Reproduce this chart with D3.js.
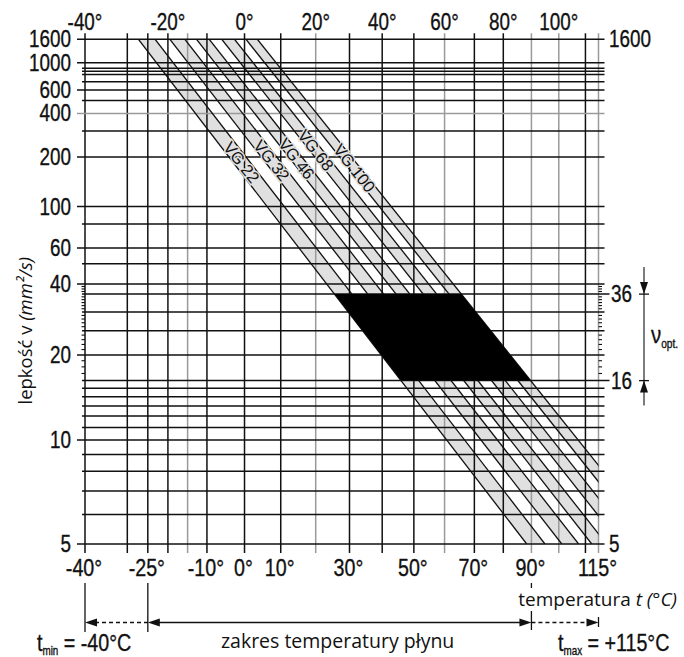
<!DOCTYPE html>
<html>
<head>
<meta charset="utf-8">
<script src="https://cdn.jsdelivr.net/npm/d3@7"></script>
<style>
  body { margin: 0; background: #fff; }
  svg { display: block; }
  .num { font-family: "Liberation Sans", Arial, sans-serif; fill: #111; stroke: #111; stroke-width: 0.35; }
  .txt { font-family: "Open Sans", "Noto Sans", sans-serif; fill: #111; }
</style>
</head>
<body>
<svg width="684" height="657"></svg>
<script>
// ISO VG bands: temperature (°C) where each band edge
// crosses 1600 mm²/s (top) and 5 mm²/s (bottom, extrapolated past 115° when needed)
const grades   = ["VG 22", "VG 32", "VG 46", "VG 68", "VG 100"];
const tTopLow  = [-27.3, -19.5, -12.7, -6.1, 0.4];
const tTopHigh = [-23.2, -15.7, -9.4, -2.7, 3.5];
const tBotLow  = [88.3, 101.1, 112.4, 123.7, 134.6];
const tBotHigh = [94.9, 107.4, 118.1, 129.3, 140.0];
const labelVisc = [185, 190, 195, 222, 170];

// viscosity grid (mm²/s)
const viscGrid = [1600, 1000, 900, 850, 800, 700, 600, 500, 400, 300, 200, 100, 80, 60, 50,
                  40, 36, 30, 25, 20, 16, 15, 14, 13, 12, 11, 10, 9, 8, 7, 6, 5];
const viscGridGray = [400];
const viscLeftLabels = [1600, 1000, 600, 400, 200, 100, 60, 40, 20, 10, 5];
const viscRightLabels = [1600, 36, 16, 5];
const viscMinor = [17, 18, 19, 21, 22, 23, 24, 26, 27, 28, 29, 31, 32, 33, 34, 35, 37, 38, 39];

// temperature grid (°C)
const tempGrid = [-40, -30, -25, -20, -15, -10, 0, 10, 20, 30, 40, 50, 60, 70, 80, 90, 100, 110, 115];
const tempGridGray = [-15, 20, 60, 90, 100, 115];
const tempTopLabels = [-40, -20, 0, 20, 40, 60, 80, 100];
const tempBottomLabels = [-40, -25, -10, 0, 10, 30, 50, 70, 90, 115];

const optRange = [16, 36];
const tMin = -40, tFluidLo = -25, tFluidHi = 90, tMax = 115;
const vTop = 1600, vBottom = 5;

const svg = d3.select("svg");

// x: log of absolute temperature, y: log-log of viscosity (Ubbelohde/ASTM style)
const lnln = v => Math.log10(Math.log10(v + 1));
const xK = d3.scaleLog().domain([tMin + 273.15, tMax + 273.15]).range([85, 598.5]);
const x = t => xK(t + 273.15);
const yL = d3.scaleLinear().domain([lnln(vBottom), lnln(vTop)]).range([544, 39.3]);
const y = v => yL(lnln(v));

const bands = grades.map((g, i) => ({
  name: g,
  lo: [tTopLow[i], tBotLow[i]],
  hi: [tTopHigh[i], tBotHigh[i]],
  lv: labelVisc[i]
}));

// x position of a band edge at a given viscosity
function xOn(edge, v) {
  const x0 = x(edge[0]), x1 = x(edge[1]), y0 = y(vTop), y1 = y(vBottom);
  return x0 + (x1 - x0) * (y(v) - y0) / (y1 - y0);
}
const line = d3.line();

svg.append("defs").append("clipPath").attr("id", "plot").append("rect")
  .attr("x", x(tMin)).attr("y", y(vTop))
  .attr("width", x(tMax) - x(tMin)).attr("height", y(vBottom) - y(vTop));

// band fills
svg.append("g").attr("clip-path", "url(#plot)")
  .selectAll("path").data(bands).join("path")
  .attr("fill", "#e0e0e0")
  .attr("d", d => line([[x(d.lo[0]), y(vTop)], [x(d.lo[1]), y(vBottom)],
                        [x(d.hi[1]), y(vBottom)], [x(d.hi[0]), y(vTop)]]) + "Z");

// vertical grid
svg.append("g").selectAll("line").data(tempGrid).join("line")
  .attr("x1", d => x(d)).attr("x2", d => x(d))
  .attr("y1", y(vTop) - 6).attr("y2", y(vBottom) + 9)
  .attr("stroke", d => tempGridGray.includes(d) ? "#9a9a9a" : "#111")
  .attr("stroke-width", 1.5);

// horizontal grid
svg.append("g").selectAll("line").data(viscGrid).join("line")
  .attr("x1", d => viscLeftLabels.includes(d) ? x(tMin) - 8 : x(tMin) - 3)
  .attr("x2", d => (d === 36 || d === 16) ? x(tMax) + 11 : x(tMax) + 6)
  .attr("y1", d => y(d)).attr("y2", d => y(d))
  .attr("stroke", d => viscGridGray.includes(d) ? "#9a9a9a" : "#111")
  .attr("stroke-width", 1.5);

// minor ticks
const minor = svg.append("g").attr("stroke", "#111").attr("stroke-width", 1.1);
minor.selectAll(".l").data(viscMinor).join("line").attr("class", "l")
  .attr("x1", x(tMin) - 3.5).attr("x2", x(tMin)).attr("y1", d => y(d)).attr("y2", d => y(d));
minor.selectAll(".r").data(viscMinor).join("line").attr("class", "r")
  .attr("x1", x(tMax)).attr("x2", x(tMax) + 3.5).attr("y1", d => y(d)).attr("y2", d => y(d));

// band edges
const edges = bands.flatMap(d => [d.lo, d.hi]);
svg.append("g").attr("clip-path", "url(#plot)")
  .selectAll("path").data(edges).join("path")
  .attr("fill", "none").attr("stroke", "#111").attr("stroke-width", 1.3)
  .attr("d", e => line([[x(e[0]), y(vTop)], [x(e[1]), y(vBottom)]]));

// optimal viscosity region
const leftEdge = bands[0].lo, rightEdge = bands[bands.length - 1].hi;
svg.append("path")
  .attr("fill", "#000")
  .attr("d", line([[xOn(leftEdge, optRange[1]), y(optRange[1])],
                   [xOn(rightEdge, optRange[1]), y(optRange[1])],
                   [xOn(rightEdge, optRange[0]), y(optRange[0])],
                   [xOn(leftEdge, optRange[0]), y(optRange[0])]]) + "Z");

// band labels
const ang = Math.atan2(y(vBottom) - y(vTop), x(bands[2].lo[1]) - x(bands[2].lo[0])) * 180 / Math.PI;
svg.append("g").selectAll("text").data(bands).join("text")
  .attr("font-family", "Liberation Sans, Arial, sans-serif")
  .attr("fill", "#111")
  .attr("font-size", 16.5)
  .attr("text-anchor", "middle")
  .attr("transform", d => {
    const cx = (xOn(d.lo, d.lv) + xOn(d.hi, d.lv)) / 2;
    return `translate(${cx},${y(d.lv)}) rotate(${ang})`;
  })
  .attr("dy", "0.36em")
  .attr("stroke", "#e0e0e0").attr("stroke-width", 3).attr("paint-order", "stroke")
  .text(d => d.name);

// narrow numeric labels
function narrow(g, tx, ty, txt, size, anchor) {
  g.append("text").attr("class", "num")
    .attr("transform", `translate(${tx},${ty}) scale(0.82,1)`)
    .attr("font-size", size).attr("text-anchor", anchor)
    .text(txt);
}
const lab = svg.append("g");
tempTopLabels.forEach(t => narrow(lab, x(t), 30, `${t}°`, 23, "middle"));
tempBottomLabels.forEach(t => narrow(lab, x(t) - 1, 576, `${t}°`, 24, "middle"));
viscLeftLabels.forEach(v => narrow(lab, 71, y(v) + 8, v, 23, "end"));
viscRightLabels.forEach(v => narrow(lab, v === 1600 || v === 5 ? 609 : 611, y(v) + 8, v, 23, "start"));

// axis titles
svg.append("text").attr("class", "txt")
  .attr("transform", `translate(32,${y(25)}) rotate(-90)`)
  .attr("font-size", 18.5).attr("text-anchor", "middle")
  .call(t => {
    t.append("tspan").text("lepkość v ");
    t.append("tspan").attr("font-style", "italic").text("(mm²/s)");
  });

svg.append("text").attr("class", "txt")
  .attr("x", 677).attr("y", 606).attr("font-size", 19).attr("text-anchor", "end")
  .call(t => {
    t.append("tspan").text("temperatura ");
    t.append("tspan").attr("font-style", "italic").text("t (°C)");
  });

svg.append("text").attr("class", "txt")
  .attr("x", (x(tFluidLo) + x(tFluidHi)) / 2 - 2).attr("y", 648)
  .attr("font-size", 19.5).attr("text-anchor", "middle")
  .text("zakres temperatury płynu");

// temperature range dimension line
function arrow(g, tx, ty, dir) {
  const L = 12, w = 4;
  const pts = {
    left:  [[tx, ty], [tx + L, ty - w], [tx + L, ty + w]],
    right: [[tx, ty], [tx - L, ty - w], [tx - L, ty + w]],
    up:    [[tx, ty], [tx - w, ty + L], [tx + w, ty + L]],
    down:  [[tx, ty], [tx - w, ty - L], [tx + w, ty - L]]
  }[dir];
  g.append("path").attr("fill", "#111").attr("d", line(pts) + "Z");
}
const dim = svg.append("g").attr("stroke-width", 1.3);
const yDim = 622.5;
[[tMin, 583, 632], [tFluidLo, 583, 632], [tFluidHi, 611, 630], [tMax, 617, 627]].forEach(([t, a, b]) =>
  dim.append("line").attr("x1", x(t)).attr("x2", x(t)).attr("y1", a).attr("y2", b).attr("stroke", "#111"));
dim.append("line").attr("x1", x(tFluidHi)).attr("x2", x(tFluidHi)).attr("y1", 583).attr("y2", 588).attr("stroke", "#111");
dim.append("line").attr("x1", x(tMin) + 10).attr("x2", x(tFluidLo)).attr("y1", yDim).attr("y2", yDim)
  .attr("stroke", "#111").attr("stroke-dasharray", "4,3");
dim.append("line").attr("x1", x(tFluidLo) + 10).attr("x2", x(tFluidHi) - 10).attr("y1", yDim).attr("y2", yDim)
  .attr("stroke", "#111");
dim.append("line").attr("x1", x(tFluidHi)).attr("x2", x(tMax) - 10).attr("y1", yDim).attr("y2", yDim)
  .attr("stroke", "#111").attr("stroke-dasharray", "4,3");
arrow(dim, x(tMin), yDim, "left");
arrow(dim, x(tFluidLo), yDim, "left");
arrow(dim, x(tFluidHi), yDim, "right");
arrow(dim, x(tMax), yDim, "right");

// t_min / t_max
function limitLabel(tx, sub, rest) {
  const t = svg.append("text").attr("class", "num")
    .attr("transform", `translate(${tx},651) scale(0.82,1)`).attr("font-size", 24);
  t.append("tspan").text("t");
  t.append("tspan").attr("font-size", 12).attr("dy", 4).text(sub);
  t.append("tspan").attr("dy", -4).text(rest);
}
limitLabel(37, "min", ` = ${tMin}°C`);
limitLabel(558, "max", ` = +${tMax}°C`);

// optimal viscosity dimension
const xOpt = 644;
const od = svg.append("g");
od.append("line").attr("x1", xOpt).attr("x2", xOpt).attr("y1", y(optRange[1]) - 27).attr("y2", y(optRange[0]) + 25)
  .attr("stroke", "#111").attr("stroke-width", 1.1);
[optRange[1], optRange[0]].forEach(v =>
  od.append("line").attr("x1", xOpt - 5).attr("x2", xOpt + 5).attr("y1", y(v)).attr("y2", y(v))
    .attr("stroke", "#111").attr("stroke-width", 1.3));
arrow(od, xOpt, y(optRange[1]), "down");
arrow(od, xOpt, y(optRange[0]), "up");
const nu = od.append("text").attr("class", "num")
  .attr("transform", `translate(651,${(y(optRange[0]) + y(optRange[1])) / 2 + 6}) scale(0.85,1)`)
  .attr("font-size", 24);
nu.append("tspan").text("ν");
nu.append("tspan").attr("font-size", 12).attr("dy", 5).text("opt.");
</script>
</body>
</html>
